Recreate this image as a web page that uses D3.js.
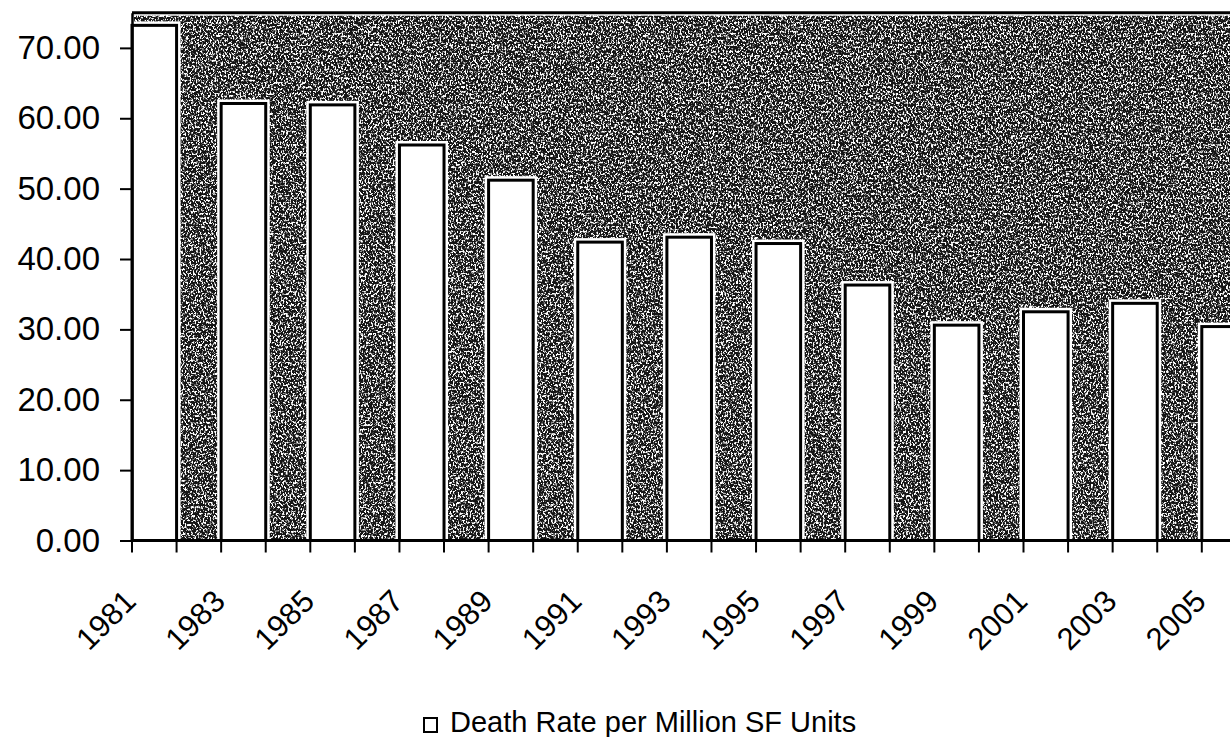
<!DOCTYPE html>
<html>
<head>
<meta charset="utf-8">
<script src="https://cdn.jsdelivr.net/npm/d3@7"></script>
<style>
	html, body { margin: 0; padding: 0; background: #fff; }
	svg text { font-family: Arial, "Liberation Sans", sans-serif; fill: #000; }
</style>
</head>
<body>
<div id="app"></div>
<script>
// values
const years = ['1981', '1983', '1985', '1987', '1989', '1991', '1993', '1995', '1997', '1999', '2001', '2003', '2005'];
const rates = [73.2, 62.1, 61.9, 56.2, 51.2, 42.4, 43.1, 42.2, 36.3, 30.6, 32.5, 33.7, 30.4];
const yTicks = [0, 10, 20, 30, 40, 50, 60, 70];
const legendLabel = 'Death Rate per Million SF Units';

const width = 1230;
const height = 737;

const svg = d3.select('#app').append('svg')
	.attr('width', width)
	.attr('height', height);

// plot area runs past the right edge of the scan
const plotLeft = 132;
const plotRight = plotLeft + 13 * 89.15;
const plotTop = 12.7;
const plotBottom = 540.5;

const x = d3.scaleBand()
	.domain(years)
	.range([plotLeft, plotRight])
	.paddingInner(0.5)
	.paddingOuter(0.25)
	.align(0);

const y = d3.scaleLinear()
	.domain([0, 75])
	.range([plotBottom, plotTop]);

// grainy photocopy background
const defs = svg.append('defs');
const grain = defs.append('filter')
	.attr('id', 'grain')
	.attr('x', 0).attr('y', 0)
	.attr('width', '100%').attr('height', '100%');
grain.append('feTurbulence')
	.attr('type', 'fractalNoise')
	.attr('baseFrequency', '0.6 0.45')
	.attr('numOctaves', 3)
	.attr('seed', 7)
	.attr('result', 'noise');
grain.append('feColorMatrix')
	.attr('in', 'noise')
	.attr('type', 'matrix')
	.attr('values', '0 0 0 0 1  0 0 0 0 1  0 0 0 0 1  7 0 0 0 -3.45');

svg.append('rect')
	.attr('x', plotLeft + 2)
	.attr('y', plotTop + 3)
	.attr('width', plotRight - plotLeft)
	.attr('height', plotBottom - plotTop - 4)
	.attr('fill', '#151515');
svg.append('rect')
	.attr('x', plotLeft + 2)
	.attr('y', plotTop + 3)
	.attr('width', plotRight - plotLeft)
	.attr('height', plotBottom - plotTop - 4)
	.attr('fill', '#000')
	.attr('filter', 'url(#grain)');

// top border of the plot area
svg.append('line')
	.attr('x1', plotLeft).attr('x2', plotRight)
	.attr('y1', plotTop).attr('y2', plotTop)
	.attr('stroke', '#000')
	.attr('stroke-width', 3);

// bars: white halo under a black outline
const bars = svg.append('g');
bars.selectAll('rect.halo')
	.data(years)
	.join('rect')
	.attr('class', 'halo')
	.attr('x', (d) => x(d))
	.attr('y', (d, i) => y(rates[i]))
	.attr('width', x.bandwidth())
	.attr('height', (d, i) => y(0) - y(rates[i]))
	.attr('fill', '#fff')
	.attr('stroke', '#fff')
	.attr('stroke-width', 8);
bars.selectAll('rect.bar')
	.data(years)
	.join('rect')
	.attr('class', 'bar')
	.attr('x', (d) => x(d))
	.attr('y', (d, i) => y(rates[i]))
	.attr('width', x.bandwidth())
	.attr('height', (d, i) => y(0) - y(rates[i]))
	.attr('fill', '#fff')
	.attr('stroke', '#000')
	.attr('stroke-width', 3);

// y axis
const yAxis = svg.append('g')
	.attr('transform', `translate(${plotLeft},0)`)
	.call(d3.axisLeft(y)
		.tickValues(yTicks)
		.tickFormat(d3.format('.2f'))
		.tickSize(12)
		.tickSizeOuter(0)
		.tickPadding(20));
yAxis.select('.domain').attr('stroke-width', 2.5);
yAxis.selectAll('.tick line').attr('stroke-width', 2);
yAxis.selectAll('.tick text')
	.attr('font-size', 33)
	.attr('font-family', 'Arial, "Liberation Sans", sans-serif');

// x axis: baseline, ticks on both bar edges, slanted labels
svg.append('line')
	.attr('x1', plotLeft - 1).attr('x2', plotRight)
	.attr('y1', y(0)).attr('y2', y(0))
	.attr('stroke', '#000')
	.attr('stroke-width', 3);

const edges = years.flatMap((d) => [x(d), x(d) + x.bandwidth()]);
svg.append('g')
	.selectAll('line')
	.data(edges)
	.join('line')
	.attr('x1', (d) => d).attr('x2', (d) => d)
	.attr('y1', y(0)).attr('y2', y(0) + 12)
	.attr('stroke', '#000')
	.attr('stroke-width', 2);

svg.append('g')
	.selectAll('text')
	.data(years)
	.join('text')
	.attr('transform', (d) => `translate(${x(d) + x.bandwidth() / 2 - 16.5},603) rotate(-45)`)
	.attr('text-anchor', 'end')
	.attr('font-size', 31)
	.text((d) => d);

// legend
const legend = svg.append('g');
legend.append('rect')
	.attr('x', 424).attr('y', 718)
	.attr('width', 13).attr('height', 14)
	.attr('fill', '#fff')
	.attr('stroke', '#000')
	.attr('stroke-width', 2);
legend.append('text')
	.attr('x', 450).attr('y', 732)
	.attr('font-size', 29)
	.text(legendLabel);
</script>
</body>
</html>
